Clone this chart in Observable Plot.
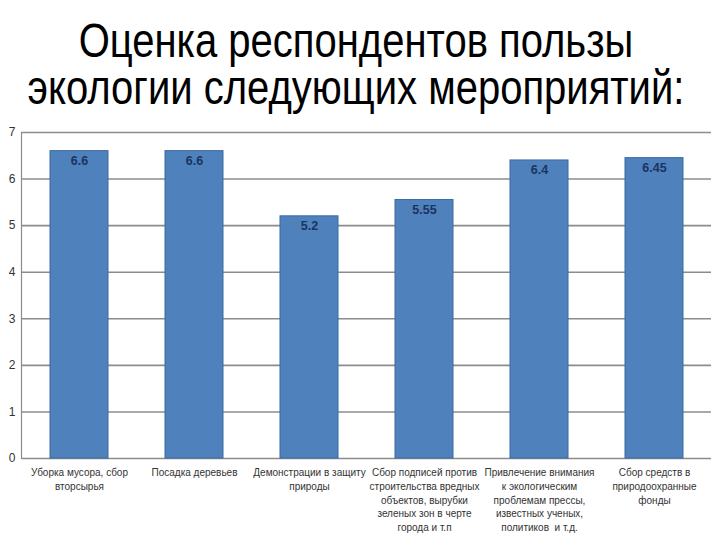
<!DOCTYPE html>
<html><head><meta charset="utf-8">
<script src="https://cdn.jsdelivr.net/npm/d3@7"></script>
<script src="https://cdn.jsdelivr.net/npm/@observablehq/plot@0.6"></script>
<style>
body{margin:0;background:#fff;width:720px;height:540px;overflow:hidden}
#title{box-sizing:border-box;height:120px;padding-top:17px;padding-right:8px;overflow:hidden}
#title .inner{font-family:"Liberation Sans",Arial,sans-serif;font-size:40px;line-height:40px;text-align:center;color:#000;white-space:nowrap;transform:scaleY(1.18);transform-origin:top center}
</style></head><body>
<div id="title"><div class="inner">Оценка респондентов пользы<br>экологии следующих мероприятий:</div></div>
<div id="chart"></div>
<script>
const categories = [
  "Уборка мусора, сбор\nвторсырья",
  "Посадка деревьев",
  "Демонстрации в защиту\nприроды",
  "Сбор подписей против\nстроительства вредных\nобъектов, вырубки\nзеленых зон в черте\nгорода и т.п",
  "Привлечение внимания\nк экологическим\nпроблемам прессы,\nизвестных ученых,\nполитиков  и т.д.",
  "Сбор средств в\nприродоохранные\nфонды"
];
const values = [6.6, 6.6, 5.2, 5.55, 6.4, 6.45];
const valueLabels = ["6.6", "6.6", "5.2", "5.55", "6.4", "6.45"];
const yTicks = [0, 1, 2, 3, 4, 5, 6, 7];

const data = categories.map((c, i) => ({cat: c, v: values[i], lab: valueLabels[i]}));

const chart = Plot.plot({
  width: 720,
  height: 420,
  marginTop: 12,
  marginBottom: 82,
  marginLeft: 21,
  marginRight: 9,
  style: {fontFamily: "'Liberation Sans', Arial, sans-serif", background: "#fff"},
  x: {domain: categories, paddingInner: 0.5, paddingOuter: 0.25, align: 0.5},
  y: {domain: [0, 7]},
  marks: [
    Plot.gridY(yTicks, {stroke: "#8c8c8c", strokeOpacity: 1, strokeWidth: 1.6}),
    Plot.frame({anchor: "left", stroke: "#8c8c8c", strokeWidth: 1.2}),
    Plot.barY(data, {x: "cat", y: "v", fill: "#4f81bd", stroke: "#3b6aa0", strokeWidth: 1}),
    Plot.text(data, {x: "cat", y: "v", text: "lab", lineAnchor: "top", dy: 5, fill: "#1b3460", fontWeight: "bold", fontSize: 12.5}),
    Plot.axisY(yTicks, {tickSize: 0, tickPadding: 6, fontSize: 12, fill: "#333", label: null}),
    Plot.text(data, {x: "cat", y: 0, text: "cat", lineAnchor: "top", dy: 8, fontSize: 10, lineHeight: 1.37, fill: "#333"}),
    Plot.axisX({ticks: [], label: null, tickSize: 0, tickFormat: () => ""})
  ]
});
document.getElementById("chart").appendChild(chart);
</script>
</body></html>
